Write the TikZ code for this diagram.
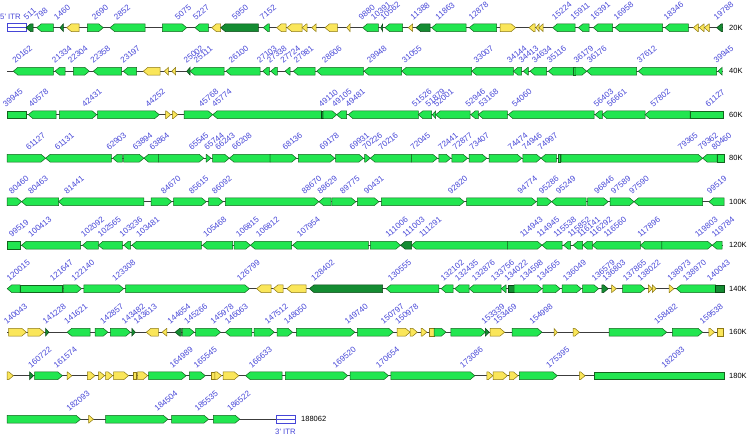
\documentclass[tikz,border=0pt]{standalone}
\usepackage{fontspec}
\setmainfont{Liberation Sans}
\definecolor{gfill}{RGB}{34,230,80}
\definecolor{gline}{RGB}{20,100,30}
\definecolor{yfill}{RGB}{250,230,90}
\definecolor{yline}{RGB}{140,120,20}
\definecolor{dfill}{RGB}{20,140,50}
\definecolor{dline}{RGB}{10,70,20}
\definecolor{lblue}{RGB}{70,70,215}
\definecolor{bb}{RGB}{60,60,60}
\tikzset{
 gG/.style={fill=gfill,draw=gline,line width=0.5pt},
 gY/.style={fill=yfill,draw=yline,line width=0.5pt},
 gD/.style={fill=dfill,draw=dline,line width=0.5pt},
 lbl/.style={rotate=40,anchor=south west,inner sep=0pt,text=lblue,font=\fontsize{8.2}{8.2}\selectfont},
 rowlbl/.style={anchor=west,inner sep=0pt,font=\fontsize{7.5}{7.5}\selectfont},
 backbone/.style={draw=bb,line width=0.7pt},
 itr/.style={draw=lblue,fill=white,line width=0.7pt},
}
\newcommand\gnrow[2]{\foreach \a/\b/\d/\c in {#2}{%
  \pgfmathsetmacro\hd{min(4.5,\b-\a)}%
  \ifnum\d=0 \path[\c] (\a,#1-3.8) rectangle (\b,#1+3.8);\fi
  \ifnum\d=1 \path[\c] (\a,#1-3.8) -- ({\b-\hd},#1-3.8) -- (\b,#1) -- ({\b-\hd},#1+3.8) -- (\a,#1+3.8) -- cycle;\fi
  \ifnum\d=2 \path[\c] (\b,#1-3.8) -- ({\a+\hd},#1-3.8) -- (\a,#1) -- ({\a+\hd},#1+3.8) -- (\b,#1+3.8) -- cycle;\fi
}}
\newcommand\lblrow[2]{\foreach \x/\t in {#2}{\node[lbl] at (\x,#1-7) {\t};}}
\begin{document}
\begin{tikzpicture}[x=1pt,y=-1pt]
\useasboundingbox (0,0) rectangle (752,439);
% backbones
\foreach \y in {27.7,71.2,114.7,158.2,201.7,245.2,288.7,332.2,375.7}{\draw[backbone] (7.3,\y) -- (722.5,\y);}
\draw[backbone] (7.2,419.2) -- (276,419.2);
% row labels
\foreach \y/\t in {27.7/20K,71.2/40K,114.7/60K,158.2/80K,201.7/100K,245.2/120K,288.7/140K,332.2/160K,375.7/180K}{\node[rowlbl] at (729,\y) {\t};}
% ITRs
\draw[itr] (7.3,23.7) rectangle (26,31.7);
\draw[lblue,line width=0.6pt] (7.3,27.7) -- (26,27.7);
\node[anchor=west,inner sep=0pt,text=lblue,font=\fontsize{7.8}{7.8}\selectfont] at (0,17) {5\textquotesingle{} ITR};
\draw[itr] (276,415.2) rectangle (295,423.2);
\draw[lblue,line width=0.6pt] (276,419.2) -- (295,419.2);
\node[inner sep=0pt,text=lblue,font=\fontsize{7.8}{7.8}\selectfont] at (285.5,432) {3\textquotesingle{} ITR};
\node[rowlbl] at (301,419.2) {188062};
% row 1
\gnrow{27.7}{26/33/2/gD, 36.7/53.3/2/gG, 60/63.3/2/gD, 66.7/79/2/gY, 87.3/103.3/1/gG, 110/145/2/gG, 162.3/186.7/1/gG, 195/208.3/2/gG, 211.7/220.7/2/gY, 220.7/258.3/2/gD, 263.3/269.3/2/gG, 276.7/286/2/gY, 287/302/2/gY, 302/307/2/gY, 311.7/316/2/gY, 325/337.3/2/gY, 346.7/350/2/gY, 362.7/378.3/2/gG, 380.7/382.7/2/gD, 385/402.7/2/gG, 408.3/412.7/2/gY, 416/430/2/gD, 431.7/466/2/gG, 469.3/496.7/2/gG, 500/515.7/1/gY, 529/535/2/gY, 536/539/2/gY, 539/543/2/gY, 552.7/575/2/gG, 578.3/589/2/gG, 593.3/612.7/2/gG, 615/662.7/2/gG, 665/688.3/2/gG, 693.3/698.3/2/gY, 699.3/704/2/gY, 704.3/709.3/2/gY, 716.7/722.7/2/gD}
\lblrow{27.7}{26.7/511, 38/798, 57/1460, 95/2690, 117/2852, 178/5075, 196/5227, 235/5950, 263/7152, 361.7/9880, 374/10391, 383.3/10562, 413.3/11388, 438.3/11863, 471.7/12878, 555/15224, 573.3/15911, 593.3/16391, 616.7/16958, 666.7/18346, 716.7/19788}
% row 2
\gnrow{71.2}{13.3/53.3/2/gG, 55/65/2/gG, 73.3/89.3/1/gG, 93.3/121.7/2/gG, 123.3/136.7/2/gG, 143.3/160/2/gY, 164.3/168.3/2/gY, 171.7/175.7/2/gY, 186.7/190/2/gD, 190/224/2/gG, 226/260/2/gG, 262.7/269.3/2/gG, 270.7/277.3/2/gG, 285/290/2/gG, 293.3/315/2/gG, 316.7/363.3/2/gG, 364/401.7/2/gG, 401.7/471.7/2/gG, 471.7/513.3/2/gG, 513.3/521.7/2/gG, 523.3/528.3/2/gG, 530/546.7/2/gG, 548.3/573.3/2/gG, 573.3/575/0/gG, 575/586.7/1/gG, 586.7/636.7/2/gG, 638.3/716.7/2/gG, 718/722/2/gG}
\lblrow{71.2}{15.5/20162, 55/21334, 71/22304, 93.5/22358, 123.3/23197, 186.7/25002, 196.7/25111, 231.7/26100, 260/27103, 270/27338, 283.3/27724, 296.7/27981, 325/28606, 370/29948, 405/31055, 476.7/33007, 510/34144, 521.7/34413, 535/34634, 550/35116, 576.7/36179, 590/36176, 640/37612, 716.7/39945}
% row 3
\gnrow{114.7}{7.3/26/0/gG, 28.3/56/2/gG, 59.3/96.7/1/gG, 97.7/159.3/1/gG, 165.7/170.7/1/gY, 172.3/177.7/1/gY, 184/212.7/1/gG, 212.7/321.7/2/gG, 321.7/323/0/gD, 323/336.7/1/gG, 336.7/346.7/2/gG, 348.3/418.3/2/gG, 418.3/431.7/2/gG, 432.3/435.7/2/gG, 435.7/470/2/gG, 470.7/478.3/2/gG, 478.3/507.3/2/gG, 508.3/594/2/gG, 595/602.3/2/gG, 602.3/645/2/gG, 645/690/2/gG, 690/723.3/0/gG}
\lblrow{114.7}{6/39945, 31.7/40578, 85/42431, 148.3/44252, 201.7/45768, 215/45774, 321.7/49110, 335/49105, 348.3/49481, 415/51526, 428.3/51879, 436.7/52001, 468.3/52946, 481.7/53168, 515/54060, 596.7/56403, 610/56661, 653.3/57802, 708.3/61127}
% row 4
\gnrow{158.2}{7.2/45.6/1/gG, 45.6/111.3/2/gG, 112.7/122.3/2/gG, 123.7/143.9/1/gG, 143.9/158.3/2/gG, 158.3/203.8/1/gG, 206.2/211/1/gG, 212.5/229.3/1/gG, 229.3/270/2/gG, 270/296.4/1/gG, 298.3/334.8/1/gG, 335.7/363.5/1/gG, 364.5/370.3/1/gG, 370.3/411.5/2/gG, 411.5/437.4/1/gG, 438.8/450.8/1/gG, 451.8/467.6/1/gG, 469/486.8/1/gG, 489.2/521.8/1/gG, 522.8/541/1/gG, 541/556.4/2/gG, 557.8/560.2/0/gG, 561.2/702.6/1/gG, 702.6/717/2/gG, 717/724.2/0/gG}
\lblrow{158.2}{28.8/61127, 57.6/61131, 109.4/62903, 135.7/63894, 152.5/63864, 191.8/65545, 207.2/65744, 218.2/66243, 235/66208, 285.4/68136, 322.3/69178, 352.5/69931, 365.5/70226, 381.3/70216, 413.4/72045, 441.2/72441, 455.6/72877, 472.4/73407, 510.8/74474, 525.2/74946, 541/74997, 681/79365, 701.2/79362, 714.6/80460}
% row 5
\gnrow{201.7}{7.2/21.6/1/gG, 21.6/58.5/2/gG, 58.5/143.9/2/gG, 151/171.7/1/gG, 173.6/206.2/1/gG, 208.6/223/1/gG, 225.4/318.9/1/gG, 318.9/331/2/gG, 331.9/355.9/1/gG, 357.3/378.9/1/gG, 381.3/464.3/1/gG, 466.7/536.2/1/gG, 537.2/551.6/1/gG, 551.6/586.1/2/gG, 587.5/608.2/1/gG, 610/634/1/gG, 634/702.6/2/gG, 708.9/724.2/2/gG}
\lblrow{201.7}{12/80460, 31.2/80463, 67.1/81441, 164/84670, 191.8/85615, 214.9/86092, 304.6/88670, 320.4/88629, 343/89775, 366.9/90431, 450.8/92820, 520.4/94774, 542/95286, 558.8/95249, 597.1/96846, 613.9/97589, 632.1/97590, 709.8/99519}
% row 6
\gnrow{245.2}{7.2/20.1/0/gG, 21.6/80.6/2/gG, 82.5/98.3/2/gG, 98.3/122.3/2/gG, 123.7/130.5/2/gG, 131.9/201.4/2/gG, 202.4/232.6/2/gG, 234/250.4/1/gG, 250.4/291.6/2/gG, 292.6/368.3/2/gG, 370.3/400.5/1/gG, 400.5/411.5/2/gD, 411.5/507.4/2/gG, 507.4/542/1/gG, 542/562.1/2/gG, 563.5/570.7/2/gG, 573.1/582.7/2/gG, 582.7/592.3/2/gG, 592.3/640.3/2/gG, 640.3/661.9/2/gG, 661.9/712.2/1/gG, 712.2/722/2/gG}
\lblrow{245.2}{12/99519, 31.2/100413, 83.9/102092, 100.7/102565, 122.3/103236, 139.1/103481, 206.2/105468, 238.8/106815, 259/106812, 299.8/107954, 388.5/111006, 405.3/111003, 422.1/111291, 522.8/114943, 539.6/114945, 556.4/115538, 570.7/115852, 580.3/116141, 592.3/116292, 606.7/116560, 640.3/117896, 697.8/119803, 714.6/119784}
% row 7
\gnrow{288.7}{7.2/20.1/2/gG, 20.1/62.4/0/gG, 63.3/81.5/1/gG, 83.9/123.7/1/gG, 125.7/249.4/1/gG, 256.6/271/2/gY, 273.4/283/2/gY, 286.8/306/2/gY, 309.4/382.7/2/gD, 386.1/438.8/2/gG, 441.2/453.2/2/gG, 454.7/469.1/2/gG, 469.1/501.2/2/gG, 501.2/506/2/gG, 508.5/514.1/0/gD, 514.1/542/1/gG, 542.9/560.2/1/gG, 562.1/581.3/1/gG, 582.7/598.6/1/gG, 601.9/608.2/1/gD, 611.5/616.3/1/gY, 622.5/645.1/1/gG, 648.4/652.3/1/gY, 652.3/656.1/1/gY, 669/673.9/1/gY, 676.3/715.6/2/gG, 715.6/724.2/0/gD}
\lblrow{288.7}{9.6/120015, 52.8/121647, 74.3/122140, 115.1/123308, 239.8/126799, 314.1/128402, 390.9/130555, 443.6/132102, 458/132435, 474.8/132876, 494/133756, 507.4/134022, 522.8/134598, 539.6/134565, 566/136049, 594.7/136579, 605.3/136803, 625.9/137865, 640.3/138022, 670.5/138973, 685.9/138970, 709.8/140043}
% row 8
\gnrow{332.2}{8.6/26.4/1/gY, 27.8/44.1/1/gY, 45.6/48.9/1/gD, 67.1/90.2/2/gG, 95/107.9/1/gG, 110.3/130.5/1/gG, 131.9/135.3/1/gD, 146.3/158.3/2/gY, 162.1/166.9/2/gY, 175.1/181.3/2/gD, 182.3/194.2/1/gG, 195.7/220.6/1/gG, 225.4/251.8/2/gG, 254.2/274.3/1/gG, 277.2/292.6/1/gG, 296.4/354.9/1/gG, 357.3/393.3/1/gG, 397.1/410.1/1/gY, 410.1/417.3/1/gY, 421.1/426.9/1/gY, 429.3/434/0/gY, 434/446/1/gG, 450.8/485.4/1/gG, 485.4/489.2/1/gD, 490.2/504.6/1/gY, 512.2/542/1/gG, 554/557.3/1/gY, 573.1/579.4/1/gY, 609.1/666.7/1/gG, 672.4/702.6/1/gG, 708.9/714.6/1/gY, 717/723.3/0/gY}
\lblrow{332.2}{7/140043, 45.6/141228, 67.1/141621, 103.1/142857, 124.7/143482, 136.7/143613, 170.3/144654, 187.1/145266, 213.4/145978, 227.8/146063, 267.6/147512, 286.8/148050, 347.7/149740, 383.7/150797, 398.1/150978, 484.4/153339, 496.4/153469, 532.4/154998, 657.1/158482, 702.6/159538}
% row 9
\gnrow{375.7}{7.2/13.4/1/gY, 29.7/33.6/1/gD, 34.5/62.4/1/gG, 67.1/71.9/1/gY, 87.3/95/1/gY, 98.3/104.6/1/gY, 105.5/112.7/1/gY, 113.7/128.5/1/gY, 133.3/136.7/0/gY, 137.6/147.7/1/gY, 148.7/186.1/1/gG, 189.4/205.3/1/gG, 211/214.9/0/gY, 214.9/221.6/1/gY, 223/238.8/1/gY, 245.6/282/2/gG, 285.4/347.7/1/gG, 350.1/388.5/1/gG, 390.9/474.8/1/gG, 486.8/493/1/gY, 493/507.4/1/gY, 509.4/518/1/gY, 519.4/557.3/1/gG, 579.4/585.1/1/gY, 594.7/724.2/0/gG}
\lblrow{375.7}{31.2/160722, 56.6/161574, 172.7/164989, 196.6/165545, 251.8/166633, 335.7/169520, 378.9/170654, 462.8/173086, 549.2/175395, 664.3/182093}
% row 10
\gnrow{419.2}{7.2/80.6/1/gG, 88.7/93.5/1/gY, 105.5/167.9/1/gG, 171.7/208.6/1/gG, 213.4/239.8/1/gG}
\lblrow{419.2}{69.5/182093, 157.3/184504, 197.6/185535, 230.2/186522}
\end{tikzpicture}
\end{document}
